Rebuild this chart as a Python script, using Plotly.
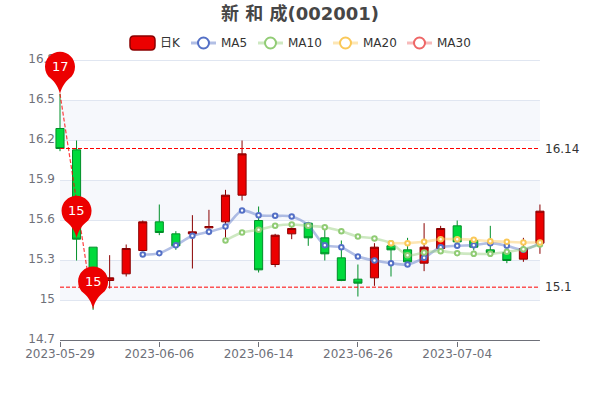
import plotly.graph_objects as go

dates = ["2023-05-29","2023-05-30","2023-05-31","2023-06-01","2023-06-02","2023-06-05","2023-06-06",
         "2023-06-07","2023-06-08","2023-06-09","2023-06-12","2023-06-13","2023-06-14","2023-06-15",
         "2023-06-16","2023-06-19","2023-06-20","2023-06-21","2023-06-26","2023-06-27","2023-06-28",
         "2023-06-29","2023-06-30","2023-07-03","2023-07-04","2023-07-05","2023-07-06","2023-07-07",
         "2023-07-10","2023-07-11"]
opens  = [16.29,16.13,15.40,15.15,15.20,15.375,15.59,15.50,15.50,15.545,15.59,15.79,15.60,15.27,15.50,
          15.58,15.47,15.32,15.16,15.17,15.41,15.38,15.28,15.39,15.56,15.45,15.38,15.36,15.31,15.43]
highs  = [16.55,16.20,15.40,15.34,15.42,15.60,15.72,15.52,15.64,15.68,15.83,16.20,15.705,15.50,15.55,
          15.59,15.54,15.45,15.27,15.43,15.43,15.47,15.58,15.56,15.60,15.46,15.56,15.39,15.47,15.72]
lows   = [16.12,15.30,14.93,15.09,15.18,15.37,15.49,15.38,15.24,15.49,15.47,15.75,15.21,15.25,15.46,
          15.41,15.30,15.145,15.03,15.11,15.18,15.28,15.22,15.38,15.43,15.375,15.35,15.28,15.29,15.35]
closes = [16.14,15.46,15.10,15.17,15.39,15.59,15.51,15.41,15.515,15.555,15.79,16.10,15.23,15.49,15.54,
          15.47,15.35,15.15,15.13,15.40,15.38,15.29,15.40,15.54,15.44,15.40,15.36,15.30,15.39,15.67]
ma5 = [None]*5 + [15.345,15.355,15.415,15.485,15.515,15.555,15.675,15.64,15.635,15.63,15.565,15.415,15.40,
                  15.33,15.30,15.28,15.27,15.32,15.40,15.41,15.415,15.43,15.41,15.38,15.43]
ma10 = [None]*10 + [15.45,15.51,15.53,15.56,15.57,15.56,15.55,15.52,15.48,15.465,15.43,15.34,15.36,15.37,
                    15.355,15.35,15.35,15.365,15.385,15.42]
ma20 = [None]*20 + [15.43,15.43,15.44,15.46,15.46,15.455,15.445,15.44,15.435,15.435]
ma30 = [None]*30
pin_dates = ["2023-05-29","2023-05-30","2023-05-31"]
pin_values = [16.55,15.47,14.94]
mark_levels = [16.14,15.1]
y_ticks = [14.7,15,15.3,15.6,15.9,16.2,16.5,16.8]
y_labels = ["14.7","15","15.3","15.6","15.9","16.2","16.5","16.8"]
x_ticks = ["2023-05-29","2023-06-06","2023-06-14","2023-06-26","2023-07-04"]
band_edges = [(16.5,16.2),(15.9,15.6),(15.3,15.0)]
series = [("MA5",ma5,"#5470C6"),("MA10",ma10,"#91CC75"),("MA20",ma20,"#FAC858"),("MA30",ma30,"#EE6666")]
rgba = {"#5470C6":"rgba(84,112,198,0.45)","#91CC75":"rgba(145,204,117,0.45)",
        "#FAC858":"rgba(250,200,88,0.45)","#EE6666":"rgba(238,102,102,0.45)"}

FONT = "DejaVu Sans, Noto Sans CJK SC, sans-serif"
L, R, T, B = 44, 552, 48, 341
def px(v): return (v - L) / (R - L)
def py(v): return (B - v) / (B - T)

fig = go.Figure()
fig.add_trace(go.Candlestick(
    x=dates, open=opens, high=highs, low=lows, close=closes, name="日K", showlegend=False,
    increasing=dict(fillcolor="#EC0000", line=dict(color="#8A0000", width=1)),
    decreasing=dict(fillcolor="#00DA3C", line=dict(color="#008F28", width=1)),
))
for name, vals, col in series:
    fig.add_trace(go.Scatter(
        x=dates, y=vals, name=name, mode="lines+markers", showlegend=False,
        line=dict(color=rgba[col], width=2.6, shape="spline", smoothing=0.8),
        marker=dict(size=4.5, color="#FFFFFF", line=dict(color=col, width=2)),
    ))
# line from highest point to lowest point
fig.add_trace(go.Scatter(
    x=[pin_dates[0], pin_dates[2]], y=[pin_values[0], pin_values[2]], mode="lines", showlegend=False,
    line=dict(color="rgba(255,0,0,0.75)", width=1.2, dash="4px,2px"),
))

shapes = []
first, last = dates[0], dates[-1]
for top, bot in band_edges:
    shapes.append(dict(type="rect", xref="x", yref="y", x0=first, x1=last, y0=bot, y1=top,
                       fillcolor="#F6F8FC", line=dict(width=0), layer="below"))
for t in y_ticks[1:]:
    shapes.append(dict(type="line", xref="x", yref="y", x0=first, x1=last, y0=t, y1=t,
                       line=dict(color="#E0E6F1", width=1), layer="below"))
shapes.append(dict(type="line", xref="x", yref="y", x0=first, x1=last, y0=y_ticks[0], y1=y_ticks[0],
                   line=dict(color="#6E7079", width=1), layer="below"))
for lv in mark_levels:
    shapes.append(dict(type="line", xref="x", yref="y", x0=first, x1=last, y0=lv, y1=lv,
                       line=dict(color="#FF0000", width=1, dash="4px,2px")))
PIN = ("M0,0 C-2,7 -4.5,11 -9,15 C-13,17.7 -15,22 -15,27 C-15,35.3 -8.3,42 0,42 "
       "C8.3,42 15,35.3 15,27 C15,22 13,17.7 9,15 C4.5,11 2,7 0,0 Z")
for d, v in zip(pin_dates, pin_values):
    shapes.append(dict(type="path", xref="x", yref="y", xsizemode="pixel", ysizemode="pixel",
                       xanchor=d, yanchor=v, path=PIN, fillcolor="#EC0000", line=dict(width=0)))

annotations = []
for d, v in zip(pin_dates, pin_values):
    annotations.append(dict(x=d, y=v, xref="x", yref="y", text=f"{v:.0f}", showarrow=False, yshift=27,
                            yanchor="middle", xanchor="center",
                            font=dict(family=FONT, size=13, color="#FFFFFF")))
for lv in mark_levels:
    annotations.append(dict(x=px(545), y=lv, xref="paper", yref="y", text=f"{lv:g}", showarrow=False,
                            xanchor="left", yanchor="middle", xshift=-2,
                            font=dict(family=FONT, size=12, color="#333333")))

# legend row
LEG_Y = 43
annotations.append(dict(x=px(160), y=py(LEG_Y), xref="paper", yref="paper", text="日K", showarrow=False,
                        xanchor="left", yanchor="middle", xshift=-2,
                        font=dict(family=FONT, size=12, color="#333333")))
x0, x1, y0, y1 = px(130), px(155), py(36), py(50)
dx, dy = 4/(R-L), 4/(B-T)
shapes.append(dict(type="path", xref="paper", yref="paper",
    path=f"M{x0+dx},{y1} L{x1-dx},{y1} Q{x1},{y1} {x1},{y1+dy} L{x1},{y0-dy} Q{x1},{y0} {x1-dx},{y0} "
         f"L{x0+dx},{y0} Q{x0},{y0} {x0},{y0-dy} L{x0},{y1+dy} Q{x0},{y1} {x0+dx},{y1} Z",
    fillcolor="#EC0000", line=dict(color="#8A0000", width=1.5)))
for (name, _, col), left in zip(series, [191, 258, 333, 407]):
    shapes.append(dict(type="line", xref="paper", yref="paper", x0=px(left), x1=px(left+25),
                       y0=py(LEG_Y), y1=py(LEG_Y), line=dict(color=rgba[col], width=3)))
    shapes.append(dict(type="circle", xref="paper", yref="paper", x0=px(left+7), x1=px(left+18),
                       y0=py(LEG_Y+5.5), y1=py(LEG_Y-5.5), fillcolor="#FFFFFF",
                       line=dict(color=col, width=2)))
    annotations.append(dict(x=px(left+30), y=py(LEG_Y), xref="paper", yref="paper", text=name,
                            showarrow=False, xanchor="left", yanchor="middle", xshift=-2,
                            font=dict(family=FONT, size=12, color="#333333")))

fig.update_layout(
    width=600, height=400, autosize=False,
    margin=dict(l=L, r=600-R, t=T, b=400-B),
    paper_bgcolor="#FFFFFF", plot_bgcolor="rgba(0,0,0,0)",
    title=dict(text="新 和 成(002001)", x=0.5, xanchor="center", y=1-14/400, yanchor="middle",
               font=dict(family=FONT, size=18, color="#464646", weight="bold")),
    showlegend=False, shapes=shapes, annotations=annotations,
    xaxis=dict(type="category", categoryorder="array", categoryarray=dates,
               range=[(L-60)/16.55, (R-60)/16.55], rangeslider=dict(visible=False),
               showgrid=False, zeroline=False, showline=False,
               tickmode="array", tickvals=x_ticks, ticktext=x_ticks,
               ticks="outside", ticklen=5, tickcolor="#6E7079", tickwidth=1, ticklabelstandoff=-3,
               tickangle=0, tickfont=dict(family=FONT, size=12, color="#6E7079")),
    yaxis=dict(range=[14.7 - 0.5/133.33, 16.8 + 12.5/133.33], anchor="free", position=(55-L)/(R-L),
               showgrid=False, zeroline=False, showline=False,
               tickmode="array", tickvals=y_ticks, ticktext=y_labels, ticks="", ticklabelshift=-2,
               tickfont=dict(family=FONT, size=12, color="#6E7079")),
)
fig.write_html("out.html", config=dict(displayModeBar=False),
               post_script="document.body.style.margin='0';document.body.style.overflow='hidden';")
